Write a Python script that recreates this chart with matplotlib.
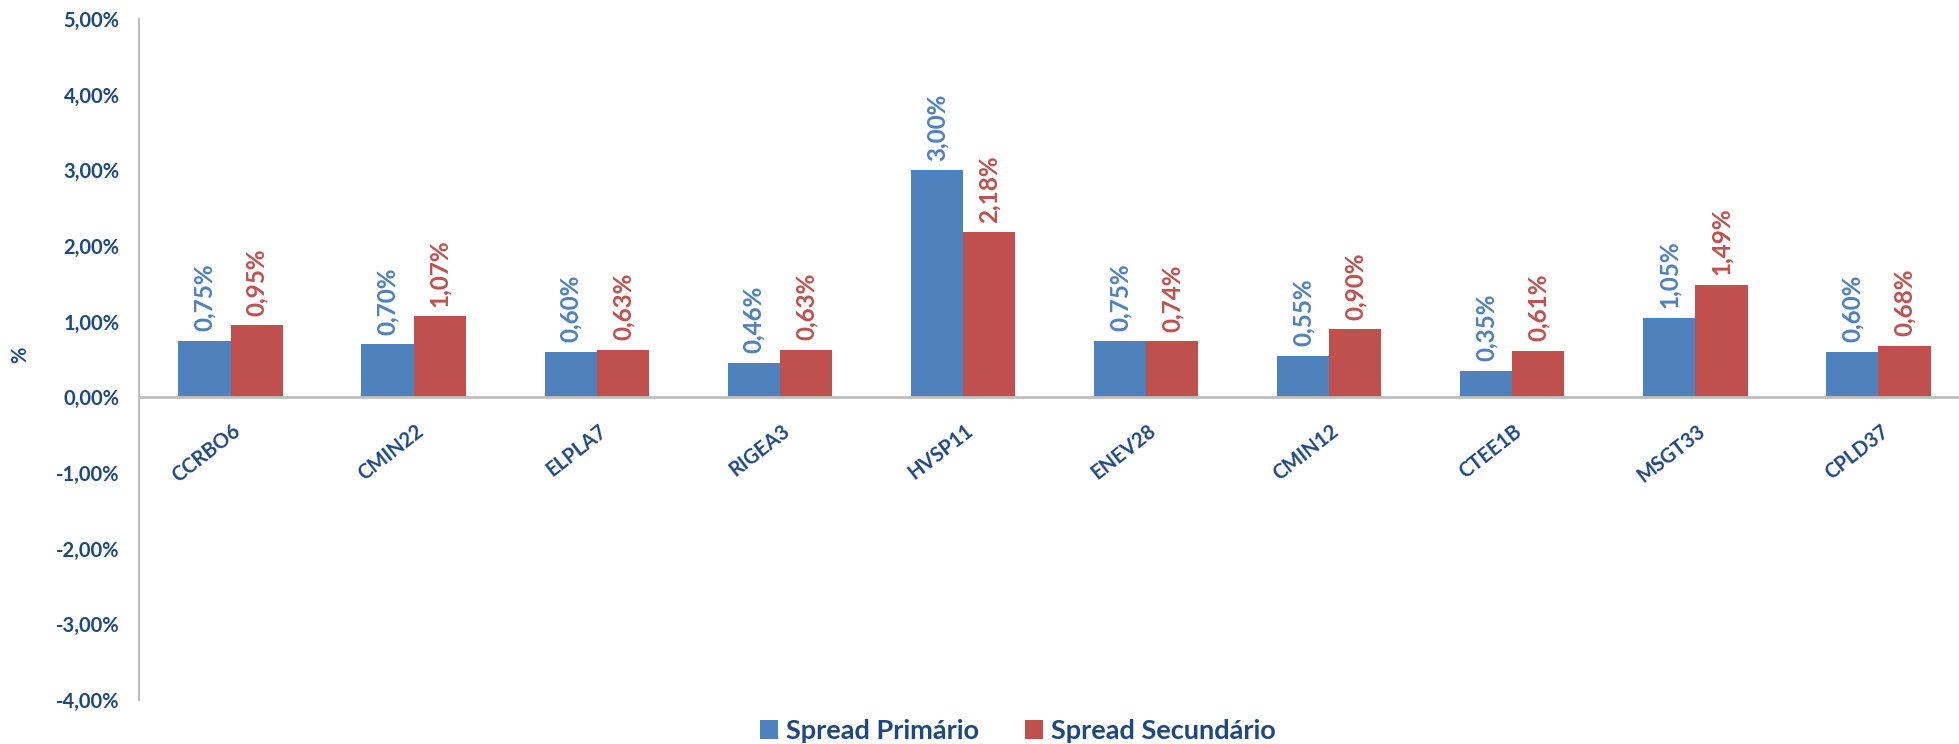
import matplotlib
matplotlib.use("Agg")
import matplotlib.pyplot as plt
import matplotlib.transforms as mtransforms
import numpy as np

# data
ativos = ["CCRBO6", "CMIN22", "ELPLA7", "RIGEA3", "HVSP11",
          "ENEV28", "CMIN12", "CTEE1B", "MSGT33", "CPLD37"]
spread_primario = [0.75, 0.70, 0.60, 0.46, 3.00, 0.75, 0.55, 0.35, 1.05, 0.60]
spread_secundario = [0.95, 1.07, 0.63, 0.63, 2.18, 0.74, 0.90, 0.61, 1.49, 0.68]
yticks = [-4, -3, -2, -1, 0, 1, 2, 3, 4, 5]

BLUE = "#4F81BD"
RED = "#C0504D"
NAVY = "#1F497D"
GRAY = "#BFBFBF"

plt.rcParams["font.family"] = ["Lato", "DejaVu Sans"]

W, H = 1959, 744
fig = plt.figure(figsize=(W / 100, H / 100), dpi=100)
ax = fig.add_axes([139 / W, 44 / H, (1970 - 139) / W, (725 - 44) / H])

x = np.arange(len(ativos))
bw = 0.285
ax.bar(x - bw / 2, spread_primario, bw, color=BLUE, label="Spread Primário")
ax.bar(x + bw / 2, spread_secundario, bw, color=RED, label="Spread Secundário")

def fmt(v):
    return f"{v:.2f}%".replace(".", ",")

lbl_off = mtransforms.offset_copy(ax.transData, fig=fig, x=0, y=7, units="points")
for xi, v in zip(x - bw / 2, spread_primario):
    ax.text(xi, v, fmt(v), transform=lbl_off, rotation=90, ha="center", va="bottom",
            color=BLUE, fontsize=17.5, fontweight="bold")
for xi, v in zip(x + bw / 2, spread_secundario):
    ax.text(xi, v, fmt(v), transform=lbl_off, rotation=90, ha="center", va="bottom",
            color=RED, fontsize=17.5, fontweight="bold")

# category labels under the zero line
cat_off = mtransforms.offset_copy(ax.transData, fig=fig, x=1, y=-17, units="points")
for xi, nome in zip(x, ativos):
    ax.text(xi, 0, nome, transform=cat_off, rotation=38, rotation_mode="anchor",
            ha="right", va="top", color=NAVY, fontsize=14.5, fontweight="bold")

ax.axhline(0, color=GRAY, lw=2, zorder=3)
ax.set_xlim(-0.5, len(ativos) - 0.5)
ax.set_ylim(-4, 5)
ax.set_xticks([])
ax.set_yticks(yticks)
ax.set_yticklabels([f"{t:.2f}%".replace(".", ",") for t in yticks],
                   color=NAVY, fontsize=14.5, fontweight="bold")
ax.tick_params(axis="y", length=0, pad=14)
for s in ["top", "right", "bottom"]:
    ax.spines[s].set_visible(False)
ax.spines["left"].set_color(GRAY)
ax.spines["left"].set_linewidth(1.5)

fig.text(20 / W, 1 - 355 / H, "%", rotation=90, ha="center", va="center",
         color=NAVY, fontsize=14.5, fontweight="bold")

fig.legend(loc="center", bbox_to_anchor=(1018 / W, 1 - 731 / H), ncol=2, frameon=False,
           handlelength=0.65, handleheight=0.65, handletextpad=0.3, columnspacing=1.7,
           prop={"size": 19.5, "weight": "bold"}, labelcolor=NAVY)

fig.savefig("out.png", dpi=100)
